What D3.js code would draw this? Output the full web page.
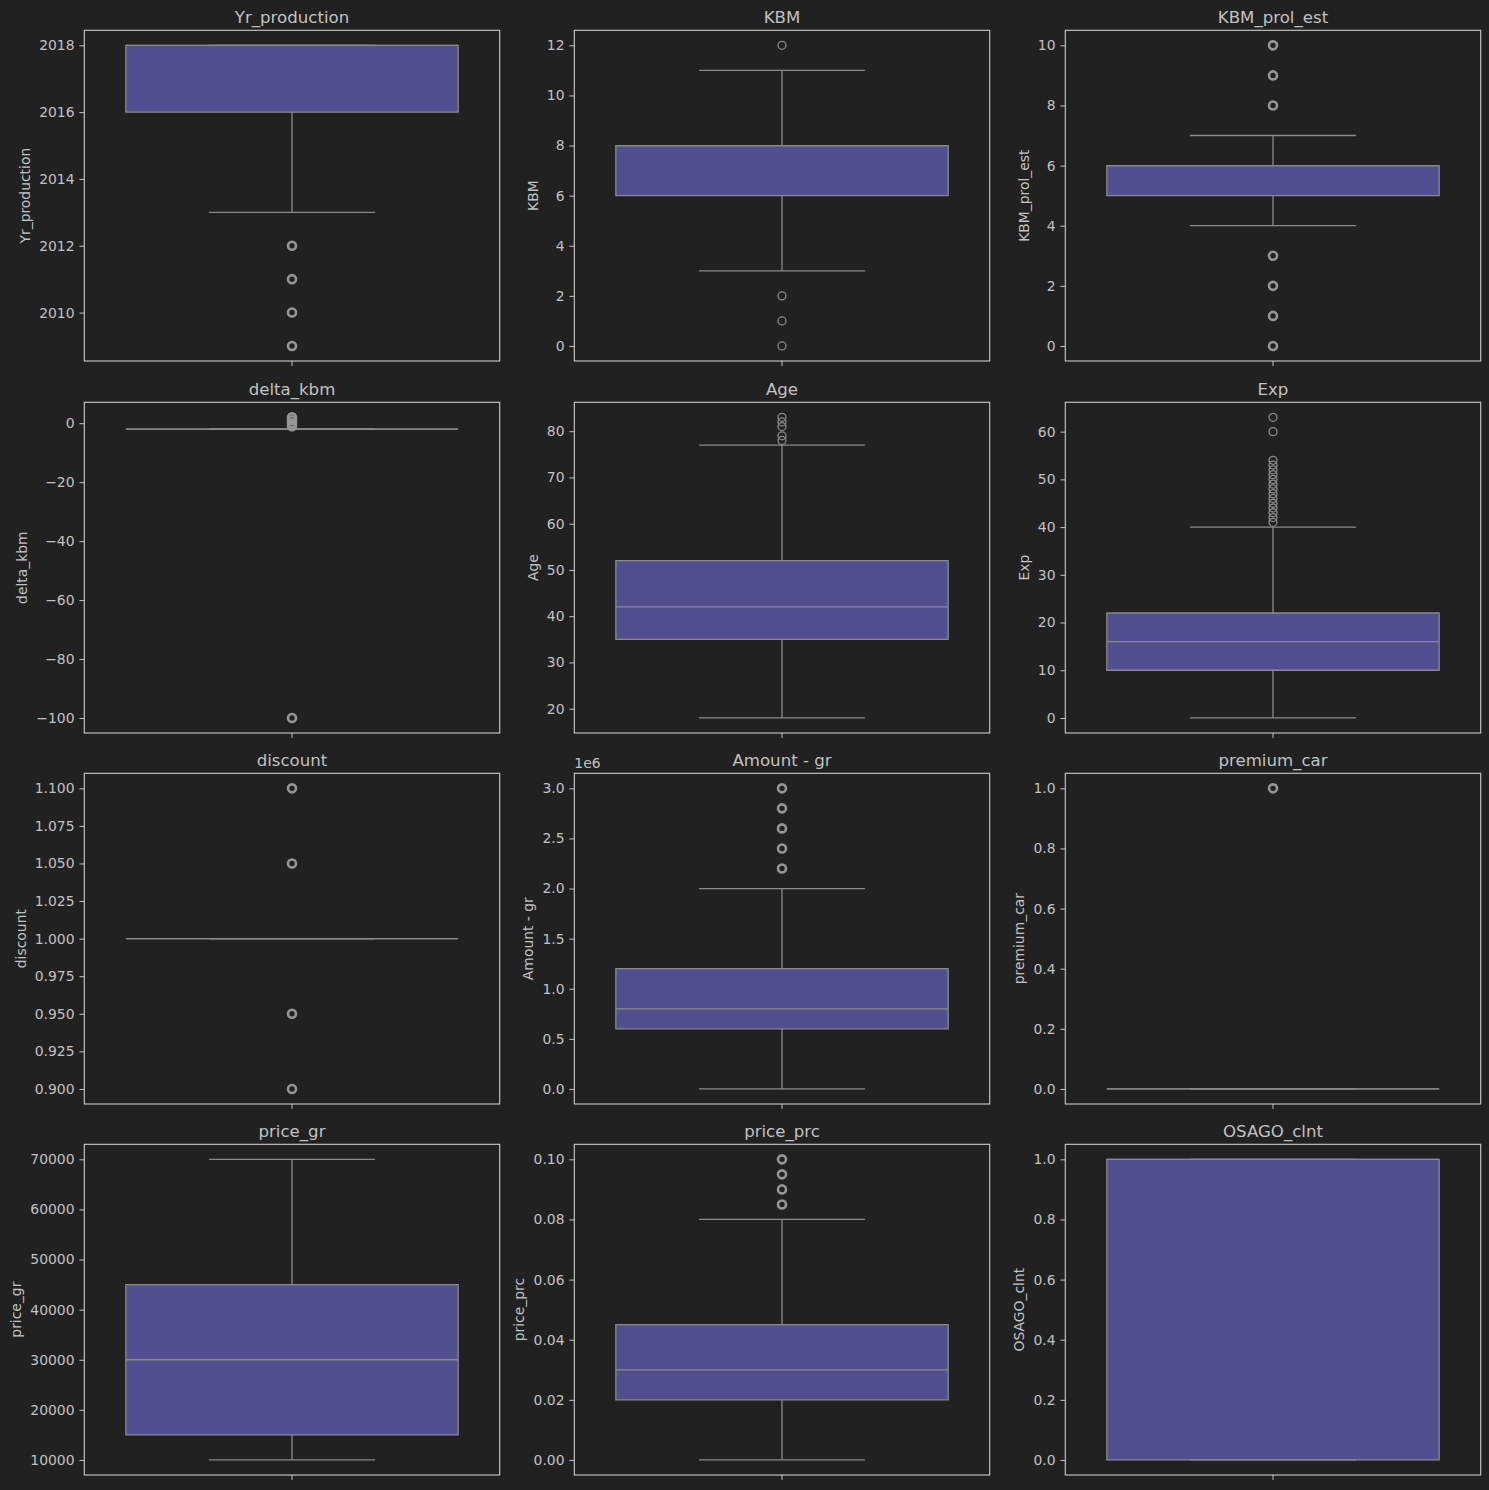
<!DOCTYPE html>
<html><head><meta charset="utf-8">
<script src="https://cdn.jsdelivr.net/npm/d3@7"></script>
<style>
html,body{margin:0;padding:0;background:#212121;}
svg{display:block;font-family:"DejaVu Sans",sans-serif;}
</style></head>
<body>
<svg id="chart" width="1489" height="1490"></svg>
<script>
// ---- data ----
const panelNames = ["Yr_production","KBM","KBM_prol_est","delta_kbm","Age","Exp","discount","Amount - gr","premium_car","price_gr","price_prc","OSAGO_clnt"];
const whiskerLow  = [2013, 3, 4, -2, 18, 0, 1.0, 0, 0, 10000, 0.0, 0];
const q1Values    = [2016, 6, 5, -2, 35, 10, 1.0, 600000, 0, 15000, 0.02, 0];
const medianValues= [2018, 8, 6, -2, 42, 16, 1.0, 800000, 0, 30000, 0.03, 1];
const q3Values    = [2018, 8, 6, -2, 52, 22, 1.0, 1200000, 0, 45000, 0.045, 1];
const whiskerHigh = [2018, 11, 7, -2, 77, 40, 1.0, 2000000, 0, 70000, 0.08, 1];
const outlierValues = [
  [2012, 2011, 2010, 2009],
  [12, 2, 1, 0],
  [10, 9, 8, 3, 2, 1, 0],
  [2, 1, 0, -1, -100],
  [78, 79, 81, 82, 83],
  [41, 42, 43, 44, 45, 46, 47, 48, 49, 50, 51, 52, 53, 54, 60, 63],
  [1.1, 1.05, 0.95, 0.9],
  [2200000, 2400000, 2600000, 2800000, 3000000],
  [1],
  [],
  [0.085, 0.09, 0.095, 0.1],
  []
];
const tickValues = [
  [2010, 2012, 2014, 2016, 2018],
  [0, 2, 4, 6, 8, 10, 12],
  [0, 2, 4, 6, 8, 10],
  [-100, -80, -60, -40, -20, 0],
  [20, 30, 40, 50, 60, 70, 80],
  [0, 10, 20, 30, 40, 50, 60],
  [0.9, 0.925, 0.95, 0.975, 1.0, 1.025, 1.05, 1.075, 1.1],
  [0, 500000, 1000000, 1500000, 2000000, 2500000, 3000000],
  [0, 0.2, 0.4, 0.6, 0.8, 1.0],
  [10000, 20000, 30000, 40000, 50000, 60000, 70000],
  [0, 0.02, 0.04, 0.06, 0.08, 0.10],
  [0, 0.2, 0.4, 0.6, 0.8, 1.0]
];
const tickFormats = ["d","d","d","d","d","d",".3f",".1f",".1f","d",".2f",".1f"];
const tickDivisors = [1,1,1,1,1,1,1,1e6,1,1,1,1];
const offsetLabels = ["","","","","","","","1e6","","","",""];

// ---- style ----
const denseFliers = [true,false,true,true,false,false,true,true,true,false,true,false];
const colLefts = [84.3, 574.3, 1065.3];
const rowTops = [30.3, 402.3, 773.3, 1144.3];
const axW = 415.4, axH = 330.7;
const bg = "#212121", frameColor = "#cccccc", textColor = "#c2c2c2", lineColor = "#8a8a8a", boxFill = "#514f8f";
const tickFont = 13.9, titleFont = 16.6;

const svg = d3.select("#chart");
svg.append("rect").attr("width",1489).attr("height",1490).attr("fill",bg);

panelNames.forEach((name, i) => {
  const col = i % 3, row = Math.floor(i / 3);
  const left = colLefts[col], top = rowTops[row];
  const g = svg.append("g").attr("transform", `translate(${left},${top})`);

  const allVals = [whiskerLow[i], whiskerHigh[i], q1Values[i], q3Values[i], ...outlierValues[i]];
  const lo = d3.min(allVals), hi = d3.max(allVals);
  const pad = (hi - lo) * 0.05;
  const y = d3.scaleLinear().domain([lo - pad, hi + pad]).range([axH, 0]);
  const x = d3.scaleBand().domain([name]).range([0, axW]).paddingInner(0).paddingOuter(0);
  const cx = x(name) + x.bandwidth() / 2;
  const boxW = x.bandwidth() * 0.8;
  const capW = boxW / 2;

  // y axis
  const fmt = d3.format(tickFormats[i]);
  const div = tickDivisors[i];
  const yAxis = d3.axisLeft(y).tickValues(tickValues[i]).tickSize(4.9).tickPadding(4.9)
    .tickFormat(d => fmt(d / div));
  const ya = g.append("g").call(yAxis);
  ya.select(".domain").remove();
  ya.selectAll(".tick line").attr("stroke", textColor).attr("stroke-width", 1);
  ya.selectAll(".tick text").attr("fill", textColor).attr("font-size", tickFont)
    .attr("font-family", "DejaVu Sans");

  // x axis tick only
  const xAxis = d3.axisBottom(x).tickSize(4.9).tickFormat("");
  const xa = g.append("g").attr("transform", `translate(0,${axH})`).call(xAxis);
  xa.select(".domain").remove();
  xa.selectAll(".tick line").attr("stroke", textColor).attr("stroke-width", 1);

  // whiskers
  const lw = 1.3;
  g.append("line").attr("x1", cx).attr("x2", cx).attr("y1", y(q3Values[i])).attr("y2", y(whiskerHigh[i]))
    .attr("stroke", lineColor).attr("stroke-width", lw);
  g.append("line").attr("x1", cx).attr("x2", cx).attr("y1", y(q1Values[i])).attr("y2", y(whiskerLow[i]))
    .attr("stroke", lineColor).attr("stroke-width", lw);
  // box
  const bx0 = cx - boxW / 2, bx1 = cx + boxW / 2;
  g.append("path")
    .attr("d", `M${bx0},${y(q1Values[i])}H${bx1}V${y(q3Values[i])}H${bx0}Z`)
    .attr("fill", boxFill).attr("stroke", lineColor).attr("stroke-width", lw);
  // caps
  [whiskerLow[i], whiskerHigh[i]].forEach(v => {
    g.append("line").attr("x1", cx - capW / 2).attr("x2", cx + capW / 2).attr("y1", y(v)).attr("y2", y(v))
      .attr("stroke", lineColor).attr("stroke-width", lw);
  });
  // median
  g.append("line").attr("x1", bx0).attr("x2", bx1).attr("y1", y(medianValues[i])).attr("y2", y(medianValues[i]))
    .attr("stroke", lineColor).attr("stroke-width", lw);
  // fliers
  g.selectAll("circle.flier").data(outlierValues[i]).enter().append("circle")
    .attr("class", "flier").attr("cx", cx).attr("cy", d => y(d)).attr("r", 4)
    .attr("fill", "none").attr("stroke", denseFliers[i] ? "#959595" : lineColor)
    .attr("stroke-width", denseFliers[i] ? 2.6 : 1.3);

  // frame
  g.append("rect").attr("x", 0).attr("y", 0).attr("width", axW).attr("height", axH)
    .attr("fill", "none").attr("stroke", frameColor).attr("stroke-width", 1.1);

  // title
  g.append("text").attr("x", axW / 2).attr("y", -7.5).attr("text-anchor", "middle")
    .attr("fill", textColor).attr("font-size", titleFont).text(name);

  // y label
  let maxW = 0;
  ya.selectAll(".tick text").each(function(){ maxW = Math.max(maxW, this.getComputedTextLength()); });
  const lx = -9.8 - maxW - 5.6 - 3.5;
  g.append("text").attr("transform", `translate(${lx},${axH/2}) rotate(-90)`).attr("text-anchor","middle")
    .attr("fill", textColor).attr("font-size", tickFont).text(name);

  // offset text
  if (offsetLabels[i]) {
    g.append("text").attr("x", 0).attr("y", -5).attr("fill", textColor).attr("font-size", tickFont)
      .text(offsetLabels[i]);
  }
});
</script>
</body></html>
